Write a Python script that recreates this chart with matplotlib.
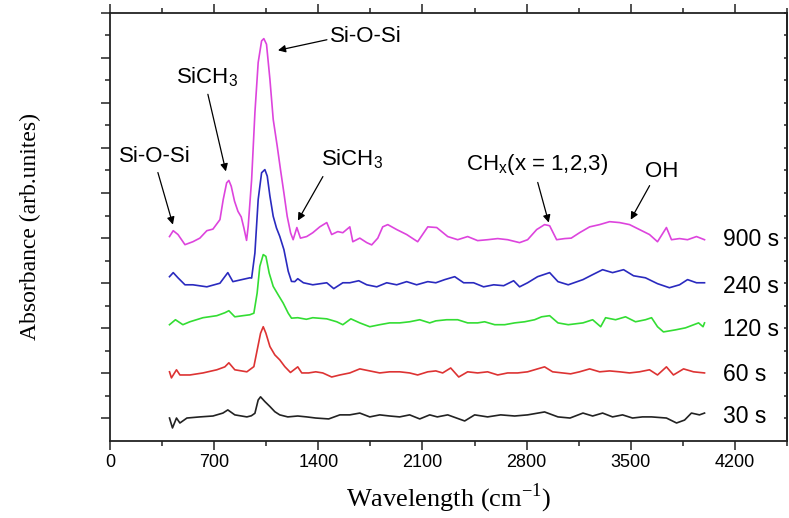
import matplotlib
matplotlib.use("Agg")
import matplotlib.pyplot as plt
from matplotlib.ticker import FixedLocator, NullFormatter

plt.rcParams['font.family'] = ['Liberation Sans', 'DejaVu Sans']
plt.rcParams['mathtext.fontset'] = 'custom'
plt.rcParams['mathtext.rm'] = 'Liberation Sans'
plt.rcParams['mathtext.it'] = 'Liberation Sans'

# ---------------- data ----------------
x900 = [400, 425, 457, 504, 557, 604, 651, 692, 739, 761,
        784, 799, 815, 837, 860, 882, 900, 918, 929, 952,
        974, 996, 1019, 1034, 1052, 1075, 1097, 1124, 1146, 1169,
        1191, 1214, 1231, 1256, 1280, 1322, 1363, 1410, 1457, 1490,
        1531, 1565, 1612, 1632, 1679, 1726, 1759, 1800, 1833, 1867,
        1927, 1994, 2068, 2136, 2196, 2270, 2337, 2404, 2471, 2538,
        2606, 2673, 2753, 2807, 2868, 2921, 2955, 3002, 3056, 3100,
        3156, 3224, 3291, 3358, 3425, 3492, 3559, 3626, 3680, 3740,
        3774, 3828, 3882, 3942, 3996]
y900 = [9.07, 9.33, 9.16, 8.71, 8.84, 9.00, 9.33, 9.40, 9.82, 10.71,
        11.45, 11.56, 11.30, 10.64, 10.19, 9.94, 9.45, 8.90, 9.53, 11.60,
        14.56, 16.79, 17.75, 17.85, 17.60, 16.04, 14.27, 13.08, 12.04, 11.00,
        9.97, 9.23, 8.93, 9.47, 9.00, 9.07, 9.24, 9.50, 9.69, 9.16,
        9.29, 9.24, 9.50, 8.84, 9.00, 8.80, 8.70, 9.00, 9.50, 9.60,
        9.38, 9.16, 8.84, 9.50, 9.47, 9.07, 8.93, 9.07, 8.89, 8.93,
        8.98, 8.93, 8.80, 8.93, 9.38, 9.60, 9.55, 8.93, 8.98, 9.00,
        9.24, 9.50, 9.60, 9.73, 9.69, 9.60, 9.38, 9.16, 8.84, 9.47,
        8.93, 8.98, 8.93, 9.07, 8.93]

x240 = [400, 425, 457, 504, 557, 651, 739, 792, 826, 886,
        940, 952, 974, 996, 1019, 1041, 1057, 1075, 1097, 1119,
        1141, 1169, 1198, 1220, 1242, 1262, 1300, 1363, 1457, 1504,
        1565, 1612, 1672, 1726, 1793, 1860, 1927, 1994, 2061, 2136,
        2190, 2250, 2317, 2377, 2444, 2511, 2579, 2646, 2713, 2753,
        2807, 2874, 2955, 3011, 3080, 3179, 3244, 3311, 3378, 3452,
        3519, 3599, 3680, 3760, 3828, 3882, 3942, 3996]
y240 = [7.29, 7.47, 7.24, 6.93, 6.93, 6.84, 7.00, 7.47, 7.07, 7.16,
        7.24, 7.23, 8.34, 10.71, 11.90, 12.04, 11.75, 10.86, 9.97, 9.45,
        9.08, 8.49, 7.53, 7.08, 7.07, 7.20, 7.02, 6.93, 7.02, 6.76,
        7.02, 7.02, 7.11, 6.93, 6.84, 7.02, 6.93, 7.07, 6.93, 7.07,
        7.02, 7.16, 7.29, 7.02, 7.02, 6.84, 6.93, 6.89, 7.11, 6.84,
        7.02, 7.29, 7.47, 7.07, 6.93, 7.16, 7.38, 7.60, 7.47, 7.60,
        7.33, 7.24, 6.98, 6.80, 6.93, 7.16, 7.02, 7.02]

x120 = [400, 440, 490, 537, 625, 718, 772, 799, 839, 893,
        940, 967, 989, 1007, 1030, 1048, 1070, 1097, 1130, 1164,
        1198, 1220, 1262, 1320, 1363, 1457, 1524, 1565, 1619, 1679,
        1746, 1813, 1880, 1947, 2014, 2082, 2149, 2190, 2263, 2337,
        2404, 2471, 2518, 2586, 2653, 2720, 2787, 2854, 2901, 2955,
        3011, 3080, 3179, 3244, 3298, 3331, 3398, 3465, 3532, 3599,
        3640, 3680, 3720, 3800, 3868, 3956, 3986, 3996]
y120 = [5.16, 5.38, 5.16, 5.29, 5.47, 5.56, 5.69, 5.78, 5.51, 5.56,
        5.60, 5.67, 6.56, 7.75, 8.27, 8.19, 7.45, 6.86, 6.49, 6.12,
        5.67, 5.45, 5.47, 5.40, 5.47, 5.42, 5.29, 5.16, 5.42, 5.24,
        5.07, 5.16, 5.24, 5.24, 5.29, 5.38, 5.24, 5.33, 5.38, 5.38,
        5.24, 5.24, 5.29, 5.16, 5.16, 5.24, 5.29, 5.38, 5.51, 5.56,
        5.24, 5.16, 5.24, 5.38, 5.07, 5.47, 5.38, 5.51, 5.29, 5.38,
        5.47, 5.07, 4.84, 4.93, 5.02, 5.24, 5.07, 5.24]

x60 = [400, 413, 447, 470, 537, 625, 718, 772, 799, 839,
       920, 967, 994, 1012, 1030, 1048, 1075, 1108, 1141, 1175,
       1213, 1262, 1289, 1335, 1383, 1430, 1490, 1545, 1612, 1679,
       1746, 1813, 1880, 1947, 2014, 2068, 2136, 2190, 2236, 2290,
       2344, 2404, 2471, 2538, 2606, 2673, 2740, 2807, 2874, 2921,
       2975, 3042, 3096, 3156, 3224, 3291, 3358, 3425, 3492, 3559,
       3626, 3680, 3740, 3787, 3855, 3922, 3996]
y60 = [3.07, 2.80, 3.16, 2.93, 2.93, 3.02, 3.16, 3.29, 3.47, 3.16,
       3.07, 3.30, 4.19, 4.78, 5.07, 4.78, 4.19, 3.82, 3.60, 3.30,
       3.04, 3.29, 3.02, 3.02, 3.07, 3.02, 2.84, 2.93, 3.02, 3.20,
       3.11, 3.02, 3.07, 3.07, 3.02, 2.93, 3.07, 3.11, 3.02, 3.24,
       2.84, 3.07, 3.02, 3.07, 2.93, 3.02, 3.02, 3.07, 3.20, 3.29,
       3.07, 3.02, 2.98, 3.07, 3.20, 3.07, 3.11, 3.07, 3.02, 3.07,
       3.16, 2.93, 3.29, 2.93, 3.20, 3.07, 3.02]

x30 = [400, 420, 447, 470, 517, 604, 692, 759, 792, 839,
       920, 950, 974, 996, 1012, 1041, 1075, 1108, 1141, 1195,
       1262, 1322, 1383, 1470, 1545, 1612, 1679, 1746, 1813, 1880,
       1947, 2014, 2082, 2149, 2200, 2270, 2384, 2451, 2538, 2626,
       2720, 2807, 2921, 3011, 3092, 3179, 3244, 3311, 3378, 3445,
       3512, 3579, 3640, 3740, 3808, 3862, 3908, 3962, 3996]
y30 = [1.02, 0.58, 1.02, 0.80, 1.02, 1.07, 1.11, 1.24, 1.38, 1.16,
       1.07, 1.12, 1.23, 1.82, 1.96, 1.75, 1.53, 1.30, 1.16, 1.07,
       1.11, 1.07, 1.02, 0.98, 1.16, 1.16, 1.24, 1.07, 1.16, 1.11,
       1.07, 1.16, 0.98, 1.16, 1.07, 1.16, 0.89, 1.16, 1.07, 1.16,
       1.11, 1.16, 1.29, 1.07, 1.02, 1.24, 1.11, 1.24, 1.07, 1.16,
       1.02, 1.07, 1.07, 1.02, 0.80, 0.93, 1.24, 1.16, 1.24]

series_labels = ['900 s', '240 s', '120 s', '60 s', '30 s']
label_y = [8.93, 6.84, 4.93, 2.93, 1.07]
xticks = [0, 700, 1400, 2100, 2800, 3500, 4200]

# ---------------- figure ----------------
fig = plt.figure(figsize=(7.89, 5.18), dpi=100)
ax = fig.add_axes([0.1394, 0.1486, 0.858, 0.8269])

colors = ['#DD44DD', '#2A2ABF', '#33DD33', '#DD3333', '#222222']
xs = [x900, x240, x120, x60, x30]
ys = [y900, y240, y120, y60, y30]
for x, y, c in zip(xs, ys, colors):
    ax.plot(x, y, color=c, lw=1.2)

for lab, ly in zip(series_labels, label_y):
    ax.text(4118, ly, lab, fontsize=16.5, ha='left', va='center', clip_on=False)

ax.set_xlim(0, 4550)
ax.set_ylim(0, 19)

ax.xaxis.set_major_locator(FixedLocator(xticks))
ax.xaxis.set_minor_locator(FixedLocator([350 + 700 * i for i in range(7)]))
ax.yaxis.set_major_locator(FixedLocator([1 + 2 * i for i in range(10)]))
ax.yaxis.set_minor_locator(FixedLocator([2 * i for i in range(1, 10)]))
ax.yaxis.set_major_formatter(NullFormatter())
ax.set_xticklabels([str(t) for t in xticks])

ax.tick_params(axis='both', which='major', direction='out', length=6.5, width=1.1,
               top=True, right=False, labelsize=13, pad=3, color='#222222')
ax.tick_params(axis='both', which='minor', direction='out', length=3.8, width=1.1,
               top=True, right=False, color='#222222')
# small inward ticks on the right spine
axr = ax.secondary_yaxis('right')
axr.yaxis.set_major_locator(FixedLocator([1 + 2 * i for i in range(10)]))
axr.yaxis.set_minor_locator(FixedLocator([2 * i for i in range(1, 10)]))
axr.yaxis.set_major_formatter(NullFormatter())
axr.tick_params(which='both', direction='in', length=2.5, width=1.1, color='#222222')
axr.spines['right'].set_linewidth(1.3)
axr.spines['right'].set_color('#222222')

for s in ax.spines.values():
    s.set_linewidth(1.3)
    s.set_color('#222222')

ax.set_xlabel('Wavelength (cm$^{\\mathregular{-1}}$)', family='Liberation Serif',
              fontsize=19, labelpad=8)
ax.set_ylabel('Absorbance (arb.unites)', family='Liberation Serif', fontsize=17,
              labelpad=40)

# ---------------- annotations ----------------
afs = 16
arrow = dict(arrowstyle='-|>', color='black', lw=0.9, mutation_scale=11,
             shrinkA=0, shrinkB=0)
ax.text(1478, 17.96, 'Si-O-Si', fontsize=afs, ha='left', va='center')
ax.annotate('', xy=(1129, 17.33), xytext=(1458, 17.8), arrowprops=arrow)

ax.text(655, 16.13, 'SiCH$_\\mathregular{3}$', fontsize=afs, ha='center', va='center')
ax.annotate('', xy=(779, 11.96), xytext=(658, 15.38), arrowprops=arrow)

ax.text(302, 12.62, 'Si-O-Si', fontsize=afs, ha='center', va='center')
ax.annotate('', xy=(423, 9.6), xytext=(322, 11.91), arrowprops=arrow)

ax.text(1626, 12.49, 'SiCH$_\\mathregular{3}$', fontsize=afs, ha='center', va='center')
ax.annotate('', xy=(1263, 9.78), xytext=(1431, 11.73), arrowprops=arrow)

ax.text(2868, 12.27, 'CH$_\\mathregular{x}$(x = 1,2,3)', fontsize=afs, ha='center', va='center')
ax.annotate('', xy=(2949, 9.69), xytext=(2875, 11.47), arrowprops=arrow)

ax.text(3708, 11.96, 'OH', fontsize=afs, ha='center', va='center')
ax.annotate('', xy=(3500, 9.82), xytext=(3627, 11.33), arrowprops=arrow)

fig.savefig('out.png', dpi=100)
